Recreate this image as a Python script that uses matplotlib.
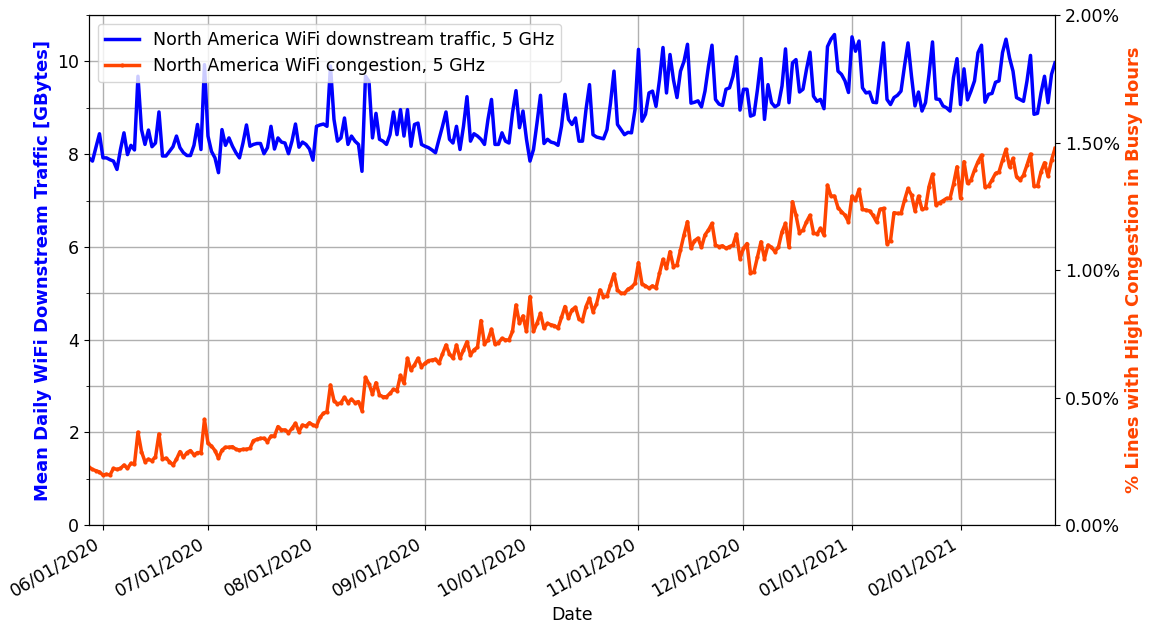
import numpy as np
import pandas as pd
import matplotlib
matplotlib.use("Agg")
import matplotlib.pyplot as plt
import matplotlib.dates as mdates
from matplotlib.ticker import MultipleLocator, PercentFormatter

# ==============================
# DATA (daily)
# ==============================
dates = pd.date_range("2020-05-28", "2021-02-28", freq="D")

traffic_gb = [
    7.92, 7.85, 8.15, 8.44, 7.92, 7.92, 7.88,
    7.85, 7.67, 8.10, 8.46, 7.99, 8.19, 8.09,
    9.68, 8.53, 8.21, 8.52, 8.16, 8.24, 8.91,
    7.96, 7.96, 8.06, 8.16, 8.39, 8.14, 8.03,
    7.97, 7.97, 8.19, 8.64, 8.10, 9.93, 8.39,
    8.06, 7.92, 7.60, 8.53, 8.19, 8.35, 8.17,
    8.03, 7.92, 8.24, 8.63, 8.17, 8.21, 8.23,
    8.23, 8.01, 8.14, 8.60, 8.11, 8.35, 8.26,
    8.24, 8.01, 8.28, 8.65, 8.15, 8.26, 8.21,
    8.11, 7.87, 8.60, 8.63, 8.65, 8.60, 9.90,
    8.75, 8.28, 8.35, 8.78, 8.21, 8.39, 8.28,
    8.21, 7.63, 9.68, 9.57, 8.35, 8.88, 8.32,
    8.28, 8.21, 8.42, 8.91, 8.42, 8.96, 8.39,
    8.96, 8.17, 8.64, 8.67, 8.21, 8.17, 8.14,
    8.09, 8.03, 8.32, 8.60, 8.91, 8.32, 8.24,
    8.60, 8.10, 8.60, 9.24, 8.28, 8.44, 8.39,
    8.32, 8.21, 8.75, 9.18, 8.21, 8.21, 8.46,
    8.28, 8.24, 8.89, 9.37, 8.57, 8.93, 8.32,
    7.85, 8.10, 8.67, 9.27, 8.23, 8.32, 8.26,
    8.24, 8.19, 8.60, 9.29, 8.75, 8.64, 8.78,
    8.28, 8.28, 8.96, 9.50, 8.42, 8.37, 8.35,
    8.33, 8.53, 9.10, 9.79, 8.64, 8.53, 8.42,
    8.47, 8.46, 8.96, 10.26, 8.71, 8.86, 9.32,
    9.36, 9.03, 9.60, 10.30, 9.32, 10.15, 9.60,
    9.22, 9.79, 10.00, 10.37, 9.10, 9.12, 9.15,
    9.02, 9.36, 9.90, 10.35, 9.18, 9.08, 9.05,
    9.40, 9.43, 9.68, 10.10, 8.95, 9.40, 9.40,
    8.82, 8.85, 9.40, 10.06, 8.75, 9.50, 9.11,
    9.02, 9.07, 9.47, 10.27, 9.11, 9.97, 10.04,
    9.34, 9.40, 9.83, 10.20, 9.25, 9.14, 9.18,
    8.98, 10.32, 10.48, 10.58, 9.79, 9.72, 9.58,
    9.33, 10.53, 10.22, 10.44, 9.43, 9.32, 9.34,
    9.12, 9.11, 9.76, 10.40, 9.18, 9.07, 9.22,
    9.27, 9.36, 9.90, 10.40, 9.68, 9.04, 9.34,
    8.93, 9.11, 9.72, 10.42, 9.19, 9.18, 9.04,
    9.00, 8.93, 9.65, 10.06, 9.07, 9.84, 9.17,
    9.36, 9.58, 10.19, 10.35, 9.12, 9.29, 9.31,
    9.55, 9.58, 10.19, 10.48, 10.08, 9.79, 9.22,
    9.18, 9.14, 9.58, 10.13, 8.86, 8.88, 9.32,
    9.68, 9.11, 9.72, 9.97,
]

congestion_pct = [
    0.226, 0.218, 0.213, 0.208, 0.196, 0.199, 0.196,
    0.222, 0.218, 0.222, 0.235, 0.222, 0.242, 0.239,
    0.364, 0.288, 0.249, 0.258, 0.252, 0.268, 0.357,
    0.258, 0.262, 0.249, 0.235, 0.258, 0.288, 0.265,
    0.284, 0.292, 0.275, 0.284, 0.284, 0.414, 0.320,
    0.310, 0.292, 0.262, 0.294, 0.305, 0.305, 0.307,
    0.297, 0.294, 0.297, 0.297, 0.301, 0.331, 0.336,
    0.340, 0.340, 0.327, 0.349, 0.349, 0.386, 0.373,
    0.373, 0.362, 0.379, 0.399, 0.366, 0.392, 0.388,
    0.401, 0.392, 0.388, 0.422, 0.438, 0.445, 0.549,
    0.488, 0.475, 0.480, 0.501, 0.480, 0.493, 0.480,
    0.484, 0.449, 0.579, 0.553, 0.514, 0.558, 0.510,
    0.503, 0.503, 0.516, 0.532, 0.527, 0.587, 0.556,
    0.654, 0.608, 0.628, 0.654, 0.621, 0.634, 0.645,
    0.647, 0.650, 0.634, 0.671, 0.706, 0.671, 0.654,
    0.706, 0.654, 0.687, 0.719, 0.667, 0.687, 0.697,
    0.802, 0.710, 0.726, 0.768, 0.710, 0.715, 0.732,
    0.726, 0.726, 0.759, 0.863, 0.791, 0.820, 0.759,
    0.896, 0.759, 0.791, 0.830, 0.772, 0.791, 0.785,
    0.782, 0.772, 0.815, 0.857, 0.811, 0.844, 0.854,
    0.807, 0.802, 0.857, 0.889, 0.837, 0.867, 0.922,
    0.896, 0.898, 0.942, 0.985, 0.922, 0.909, 0.909,
    0.925, 0.932, 0.948, 1.029, 0.946, 0.938, 0.929,
    0.938, 0.929, 0.987, 1.042, 1.007, 1.072, 1.013,
    1.020, 1.079, 1.138, 1.190, 1.085, 1.115, 1.125,
    1.089, 1.138, 1.157, 1.183, 1.098, 1.092, 1.095,
    1.085, 1.092, 1.098, 1.141, 1.045, 1.085, 1.104,
    0.987, 0.993, 1.052, 1.111, 1.045, 1.098, 1.089,
    1.072, 1.091, 1.150, 1.183, 1.089, 1.268, 1.215,
    1.146, 1.157, 1.189, 1.215, 1.146, 1.141, 1.164,
    1.137, 1.333, 1.290, 1.290, 1.245, 1.229, 1.215,
    1.189, 1.290, 1.274, 1.316, 1.238, 1.235, 1.232,
    1.215, 1.189, 1.238, 1.242, 1.104, 1.115, 1.225,
    1.222, 1.222, 1.274, 1.320, 1.294, 1.232, 1.290,
    1.238, 1.242, 1.327, 1.376, 1.255, 1.264, 1.272,
    1.281, 1.281, 1.337, 1.405, 1.281, 1.425, 1.340,
    1.353, 1.392, 1.425, 1.451, 1.327, 1.329, 1.353,
    1.379, 1.385, 1.431, 1.473, 1.405, 1.438, 1.366,
    1.353, 1.372, 1.412, 1.455, 1.329, 1.329, 1.385,
    1.421, 1.368, 1.431, 1.477,
]

traffic_label = "North America WiFi downstream traffic, 5 GHz"
congestion_label = "North America WiFi congestion, 5 GHz"

# ==============================
# PLOT
# ==============================
fig = plt.figure(figsize=(11.51, 6.28), dpi=100)
ax = fig.add_axes([0.0773, 0.164, 0.8393, 0.812])

l1, = ax.plot(dates, traffic_gb, color="blue", linewidth=2.5, label=traffic_label)
ax.set_ylim(0, 11)
ax.yaxis.set_major_locator(MultipleLocator(2))
ax.yaxis.set_minor_locator(MultipleLocator(1))
ax.grid(True, which="both", color="#b0b0b0", linewidth=1)
ax.set_axisbelow(True)
ax.set_ylabel("Mean Daily WiFi Downstream Traffic [GBytes]", color="blue",
              fontsize=13, fontweight="bold")
ax.set_xlabel("Date", fontsize=12.5)
ax.tick_params(labelsize=12.5)

ax.set_xlim(dates[0], dates[-1])
ax.xaxis.set_major_locator(mdates.MonthLocator())
ax.xaxis.set_major_formatter(mdates.DateFormatter("%m/%d/%Y"))
for lbl in ax.get_xticklabels():
    lbl.set_rotation(30)
    lbl.set_ha("right")

ax2 = ax.twinx()
l2, = ax2.plot(dates, congestion_pct, color="orangered", linewidth=2.5,
               marker=".", markersize=4, label=congestion_label)
ax2.set_ylim(0, 2)
ax2.yaxis.set_major_locator(MultipleLocator(0.5))
ax2.yaxis.set_major_formatter(PercentFormatter(xmax=100, decimals=2))
ax2.set_ylabel("% Lines with High Congestion in Busy Hours", color="orangered",
               fontsize=13, fontweight="bold")
ax2.tick_params(labelsize=12.5)

ax2.legend(handles=[l1, l2], loc="upper left", fontsize=12.5)

fig.savefig("out.png", dpi=100)
